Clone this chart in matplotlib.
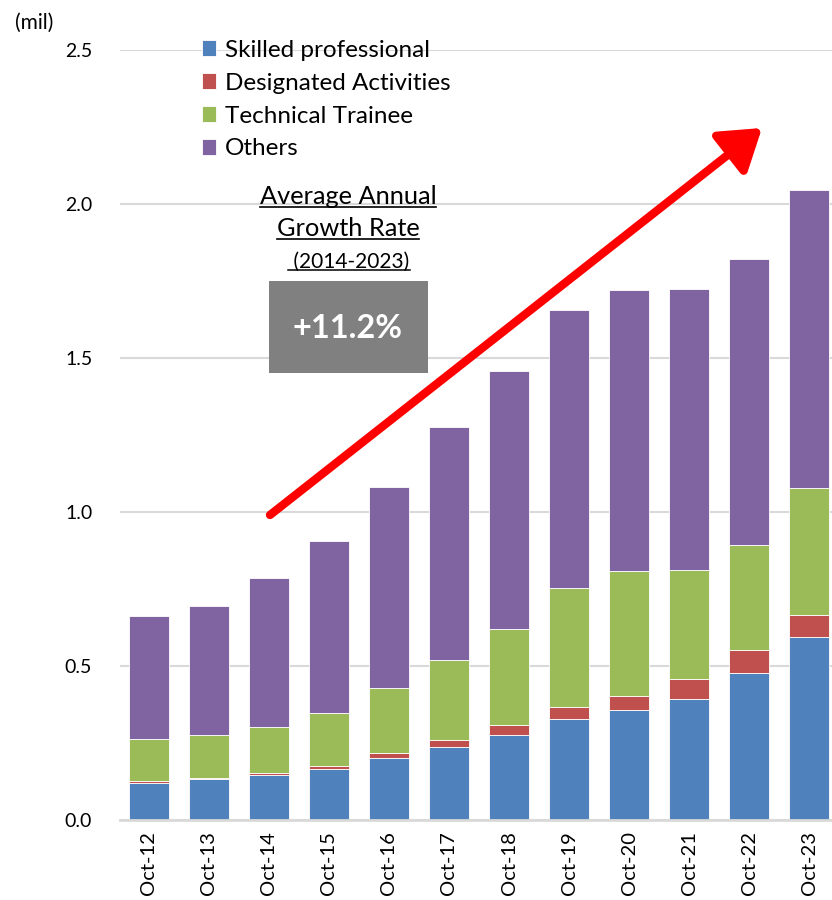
import matplotlib
matplotlib.use("Agg")
import matplotlib.pyplot as plt
import numpy as np
from matplotlib.patches import Rectangle, FancyArrowPatch
from matplotlib.lines import Line2D

categories = ["Oct-12", "Oct-13", "Oct-14", "Oct-15", "Oct-16", "Oct-17",
              "Oct-18", "Oct-19", "Oct-20", "Oct-21", "Oct-22", "Oct-23"]
skilled = [0.120, 0.132, 0.145, 0.165, 0.200, 0.237, 0.275, 0.327, 0.357, 0.392, 0.477, 0.593]
designated = [0.007, 0.005, 0.009, 0.011, 0.018, 0.024, 0.034, 0.040, 0.046, 0.066, 0.074, 0.073]
trainee = [0.135, 0.139, 0.147, 0.170, 0.212, 0.259, 0.310, 0.385, 0.405, 0.354, 0.342, 0.412]
others = [0.400, 0.419, 0.485, 0.560, 0.651, 0.756, 0.839, 0.904, 0.913, 0.912, 0.928, 0.967]
series_names = ["Skilled professional", "Designated Activities", "Technical Trainee", "Others"]
colors = ["#4F81BD", "#C0504D", "#9BBB59", "#8064A2"]
yticks = [0.0, 0.5, 1.0, 1.5, 2.0, 2.5]

W, H = 832, 900
fig = plt.figure(figsize=(W / 100, H / 100), dpi=100)
ax = fig.add_axes([120 / W, 1 - 820 / H, (832 - 120) / W, (820 - 50) / H])

x = np.arange(len(categories))
bottom = np.zeros(len(categories))
for vals, c, name in zip([skilled, designated, trainee, others], colors, series_names):
    ax.bar(x, vals, width=0.67, bottom=bottom, color=c, label=name,
           edgecolor="white", linewidth=0.6, zorder=3)
    bottom += np.array(vals)

ax.set_xlim(-0.483, 11.383)
ax.set_ylim(0, 2.5)
ax.set_yticks(yticks)
ax.set_yticklabels([f"{v:.1f}" for v in yticks], fontsize=14, family="Lato")
ax.set_xticks(x)
ax.set_xticklabels(categories, rotation=90, fontsize=14.5, family="Lato", va="top")
ax.tick_params(axis="both", length=0)
ax.tick_params(axis="y", pad=20)
ax.tick_params(axis="x", pad=8)
ax.yaxis.grid(True, color="#D9D9D9", linewidth=1.5, zorder=0)
ax.set_axisbelow(True)
for s in ["left", "right", "top"]:
    ax.spines[s].set_visible(False)
ax.spines["bottom"].set_color("#D9D9D9")
ax.spines["bottom"].set_linewidth(2)
ax.spines["bottom"].set_zorder(4)

fig.text(15 / W, 1 - 23 / H, "(mil)", fontsize=15, family="Lato", va="center", ha="left")

# legend
handles, labels = ax.get_legend_handles_labels()
leg = ax.legend(handles, labels, loc="upper left", bbox_to_anchor=(192 / W, 1 - 30 / H),
                bbox_transform=fig.transFigure, frameon=False,
                prop={"family": "Lato", "size": 17.5}, handlelength=0.6, handleheight=0.6,
                handletextpad=0.35, labelspacing=0.49, borderaxespad=0)

# arrow
p0 = ax.transData.inverted().transform((270, H - 515))
p1 = ax.transData.inverted().transform((762, H - 128))
arr = FancyArrowPatch(p0, p1, arrowstyle="-|>,head_length=15,head_width=10",
                      color="#FF0000", linewidth=6, mutation_scale=1.6, zorder=6,
                      shrinkA=0, shrinkB=0)
ax.add_patch(arr)

# annotation box
fig.patches.append(Rectangle((269 / W, 1 - 373 / H), (428 - 269) / W, (373 - 281) / H,
                             transform=fig.transFigure, facecolor="#808080",
                             edgecolor="none", zorder=5))
fig.text(348 / W, 1 - 328 / H, "+11.2%", color="white", fontsize=23.5, fontweight="bold",
         family="Lato", ha="center", va="center", zorder=6)

texts = [
    (fig.text(348 / W, 1 - 197 / H, "Average Annual", fontsize=18.3, family="Lato",
              ha="center", va="center"), 1.2),
    (fig.text(348 / W, 1 - 229 / H, "Growth Rate", fontsize=18.3, family="Lato",
              ha="center", va="center"), 1.2),
    (fig.text(349 / W, 1 - 262 / H, " (2014-2023)", fontsize=15, family="Lato",
              ha="center", va="center"), 1.1),
]
fig.canvas.draw()
r = fig.canvas.get_renderer()
for t, lw in texts:
    bb = t.get_window_extent(r)
    yline = bb.y0 + 2
    fig.lines.append(Line2D([bb.x0 / W, bb.x1 / W], [yline / H, yline / H],
                            transform=fig.transFigure, color="black", linewidth=lw))

fig.savefig("out.png", dpi=100)
